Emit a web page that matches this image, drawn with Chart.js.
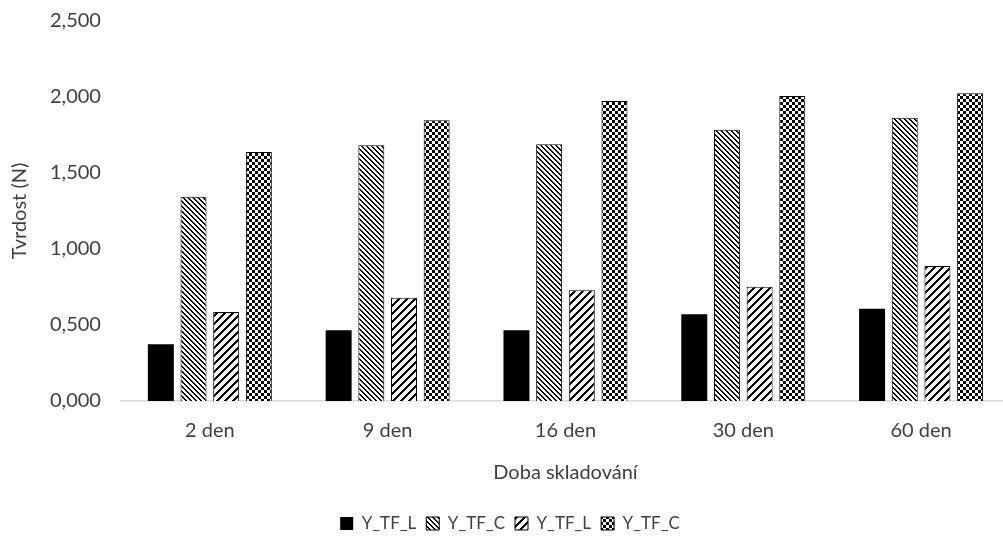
<!DOCTYPE html>
<html>
<head>
<meta charset="utf-8">
<script src="https://cdn.jsdelivr.net/npm/chart.js@4"></script>
<style>
  html, body { margin: 0; padding: 0; background: #fff; overflow: hidden; }
  #wrap { width: 1010px; height: 553px; }
</style>
</head>
<body>
<div id="wrap"><canvas id="myChart"></canvas></div>
<script>
const categories = ["2 den", "9 den", "16 den", "30 den", "60 den"]
const seriesNames = ["Y_TF_L", "Y_TF_C", "Y_TF_L", "Y_TF_C"]

const blackL = [0.373, 0.465, 0.465, 0.570, 0.607]
const stripeC = [1.344, 1.682, 1.689, 1.785, 1.864]
const wideL = [0.585, 0.680, 0.728, 0.752, 0.888]
const checkC = [1.638, 1.847, 1.973, 2.007, 2.024]

const yTicks = [0, 0.5, 1, 1.5, 2, 2.5]

const textColor = '#404040'
const fontFamily = 'Lato, "Open Sans", sans-serif'

// small pixel patterns like the Excel fills
function makePattern(size, isBlack) {
    const c = document.createElement('canvas')
    c.width = size
    c.height = size
    const g = c.getContext('2d')
    g.fillStyle = '#fff'
    g.fillRect(0, 0, size, size)
    g.fillStyle = '#000'
    for (let y = 0; y < size; y++) {
        for (let x = 0; x < size; x++) {
            if (isBlack(x, y)) g.fillRect(x, y, 1, 1)
        }
    }
    return g.createPattern(c, 'repeat')
}

const dnDiag = makePattern(10, (x, y) => ((x - y) % 5 + 5) % 5 < 2)
const upDiag = makePattern(8, (x, y) => (x + y) % 8 < 3)
const checker = makePattern(6, (x, y) => (Math.floor(x / 3) + Math.floor(y / 3)) % 2 === 0)

const fills = ['#000', dnDiag, upDiag, checker]
const values = [blackL, stripeC, wideL, checkC]

const ctx = document.getElementById('myChart')
new Chart(ctx, {
    type: 'bar',
    data: {
        labels: categories,
        datasets: values.map((v, i) => ({
            label: seriesNames[i],
            data: v,
            backgroundColor: fills[i],
            borderColor: '#000',
            borderWidth: i === 0 ? 0 : 1,
            categoryPercentage: 0.735,
            barPercentage: 0.795
        }))
    },
    options: {
        responsive: true,
        maintainAspectRatio: false,
        animation: false,
        layout: { padding: { left: 10, right: 0, top: 0, bottom: 11 } },
        plugins: {
            tooltip: { enabled: false },
            legend: {
                position: 'bottom',
                labels: {
                    color: textColor,
                    font: { family: fontFamily, size: 17 },
                    boxWidth: 13,
                    boxHeight: 13,
                    padding: 10
                }
            }
        },
        scales: {
            x: {
                grid: { display: false, drawTicks: false },
                border: { display: true, color: '#d9d9d9', width: 1.5 },
                ticks: { color: textColor, font: { family: fontFamily, size: 20 }, padding: 18 },
                title: {
                    display: true,
                    text: 'Doba skladování',
                    color: textColor,
                    font: { family: fontFamily, size: 20 },
                    padding: { top: 0, bottom: 20 }
                }
            },
            y: {
                min: 0,
                max: 2.5,
                afterBuildTicks: axis => { axis.ticks = yTicks.map(v => ({ value: v })) },
                afterFit: axis => { axis.paddingTop = 21 },
                grid: { display: false, drawTicks: false },
                border: { display: false },
                ticks: {
                    color: textColor,
                    font: { family: fontFamily, size: 20 },
                    padding: 20,
                    callback: v => v.toFixed(3).replace('.', ',')
                },
                title: {
                    display: true,
                    text: 'Tvrdost (N)',
                    color: textColor,
                    font: { family: fontFamily, size: 20, lineHeight: 1 },
                    padding: { top: 0, bottom: 0 }
                }
            }
        }
    }
})
</script>
</body>
</html>
